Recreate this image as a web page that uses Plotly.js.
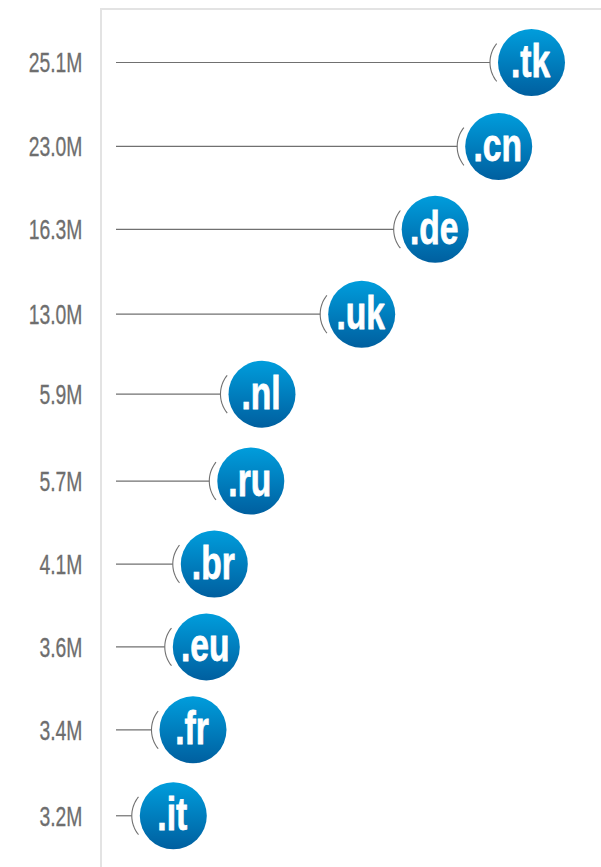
<!DOCTYPE html>
<html><head><meta charset="utf-8">
<script src="https://cdn.plot.ly/plotly-3.0.1.min.js"></script>
<style>html,body{margin:0;padding:0;background:#fff}</style></head>
<body><div id="c" style="width:601px;height:867px"></div>
<script>
const domains = ['.tk','.cn','.de','.uk','.nl','.ru','.br','.eu','.fr','.it'];
const valueLabels = ['25.1M','23.0M','16.3M','13.0M','5.9M','5.7M','4.1M','3.6M','3.4M','3.2M'];
const drawnLength = [431.5,398.7,335.2,261.7,162,150.8,114.3,106.3,93,73.3];
const rowPosition = [0,1.003,1.993,3.007,3.962,5.0,5.991,6.981,7.972,8.998];
const lineStart = 16;
const PX_PER_ROW = 83.78, GAP = 41.5, ARC_R = 30, A = 39 * Math.PI / 180;
const FONT = '"Liberation Sans",sans-serif';

const traces = [];
domains.forEach((d,i)=>{
  const cx = drawnLength[i], cy = rowPosition[i];
  traces.push({x:[lineStart,cx-GAP],y:[cy,cy],mode:'lines',line:{color:'#707070',width:1.2},hoverinfo:'skip'});
  const ax=[],ay=[];
  for(let k=-12;k<=12;k++){const t=A*k/12;ax.push(cx-GAP+ARC_R*(1-Math.cos(t)));ay.push(cy+ARC_R*Math.sin(t)/PX_PER_ROW);}
  traces.push({x:ax,y:ay,mode:'lines',line:{color:'#707070',width:1.1,shape:'spline'},hoverinfo:'skip'});
});
traces.push({x:drawnLength,y:rowPosition,text:domains,mode:'markers+text',textposition:'middle center',
  textfont:{family:FONT,size:46,color:'#fff',weight:700},
  marker:{size:67,color:'#009ddc',gradient:{type:'vertical',color:'#005f9f'},line:{width:0}},hoverinfo:'text'});

Plotly.newPlot('c',traces,{
  width:601,height:867,showlegend:false,paper_bgcolor:'#fff',plot_bgcolor:'#fff',
  margin:{l:102,r:0,t:10,b:0,pad:0},
  xaxis:{range:[2,501],side:'top',showgrid:false,zeroline:false,showticklabels:false,ticks:'',showline:true,linecolor:'#e3e3e3',linewidth:2},
  yaxis:{range:[9.61,-0.627],tickmode:'array',tickvals:rowPosition,ticktext:valueLabels,ticks:'outside',ticklen:12,tickcolor:'rgba(0,0,0,0)',
    tickfont:{family:FONT,size:28,color:'#6e6e6e'},
    showgrid:false,zeroline:false,showline:true,linecolor:'#e3e3e3',linewidth:2}
},{displayModeBar:false,staticPlot:true}).then(gd=>{
  const squeeze=(sel,f)=>gd.querySelectorAll(sel).forEach(t=>{
    const w=t.getComputedTextLength();
    t.setAttribute('lengthAdjust','spacingAndGlyphs');
    t.setAttribute('textLength',(w*f).toFixed(1));
  });
  squeeze('.textpoint text',0.73);
  squeeze('.ytick text',0.69);
  gd.querySelectorAll('.textpoint text').forEach(t=>{
    t.setAttribute('x',(parseFloat(t.getAttribute('x'))-1).toFixed(1));
    t.setAttribute('y',(parseFloat(t.getAttribute('y'))+3).toFixed(1));
    t.style.stroke='#fff';t.style.strokeWidth='0.8px';
  });
  gd.querySelectorAll('.ytick text').forEach(t=>{
    t.style.stroke='#6e6e6e';t.style.strokeWidth='0.3px';
  });
});
</script></body></html>
